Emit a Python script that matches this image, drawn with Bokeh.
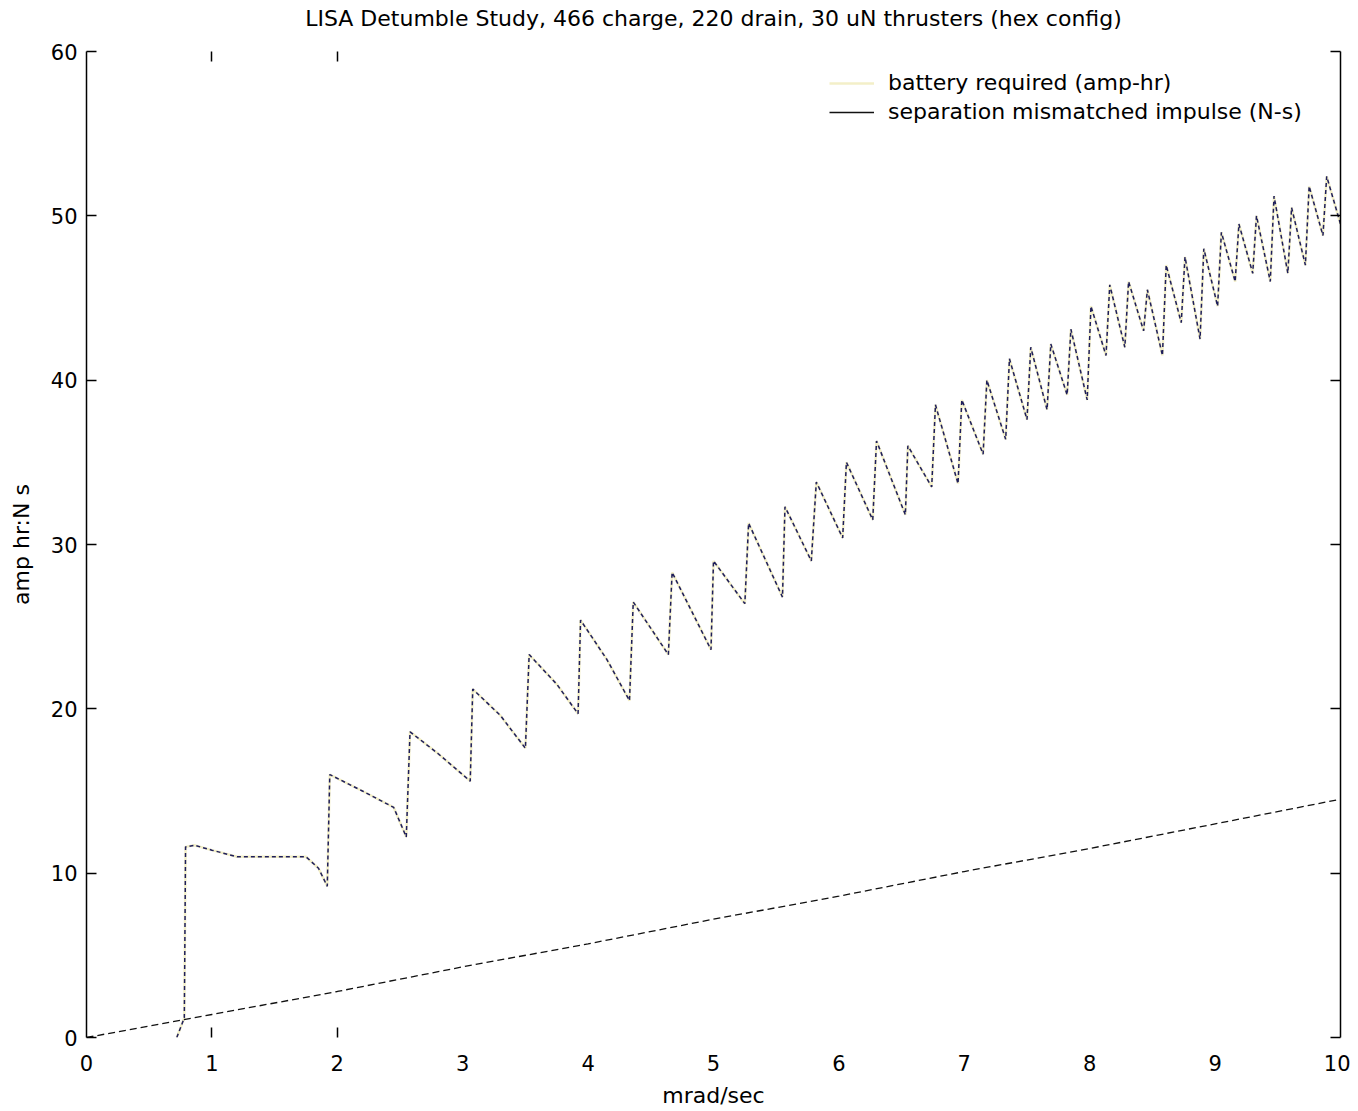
from bokeh.plotting import figure
from bokeh.models import Range1d, LinearAxis, FixedTicker, Legend, LegendItem
from bokeh.embed import file_html
from bokeh.resources import INLINE

TITLE = "LISA Detumble Study, 466 charge, 220 drain, 30 uN thrusters (hex config)"
X_LABEL = "mrad/sec"
Y_LABEL = "amp hr:N s"
X_TICKS = [0, 1, 2, 3, 4, 5, 6, 7, 8, 9, 10]
Y_TICKS = [0, 10, 20, 30, 40, 50, 60]
EDGE_TICKS = [1, 2]
LABEL_BATTERY = "battery required (amp-hr)"
LABEL_IMPULSE = "separation mismatched impulse (N-s)"

# sawtooth series
saw_x = [0.72, 0.78, 0.79, 0.86, 1.00, 1.20, 1.50, 1.75, 1.85, 1.92,
         1.94, 2.20, 2.45, 2.55, 2.58, 2.80, 3.06, 3.08, 3.30, 3.50,
         3.53, 3.75, 3.92, 3.94, 4.15, 4.33, 4.36, 4.64, 4.67, 4.98,
         5.00, 5.25, 5.28, 5.55, 5.57, 5.78, 5.82, 6.03, 6.06, 6.27,
         6.30, 6.53, 6.55, 6.74, 6.77, 6.95, 6.98, 7.15, 7.18, 7.33,
         7.36, 7.50, 7.53, 7.66, 7.69, 7.82, 7.85, 7.98, 8.01, 8.13,
         8.16, 8.28, 8.31, 8.43, 8.46, 8.58, 8.61, 8.73, 8.76, 8.88,
         8.91, 9.02, 9.05, 9.16, 9.19, 9.30, 9.33, 9.44, 9.47, 9.58,
         9.61, 9.72, 9.75, 9.86, 9.89, 10.00]
saw_y = [0.0, 1.2, 11.6, 11.7, 11.4, 11.0, 11.0, 11.0, 10.3, 9.2,
         16.0, 15.0, 14.0, 12.2, 18.6, 17.3, 15.6, 21.2, 19.6, 17.6,
         23.3, 21.5, 19.7, 25.4, 23.0, 20.5, 26.5, 23.3, 28.3, 23.6,
         29.0, 26.4, 31.3, 26.8, 32.3, 29.0, 33.8, 30.4, 35.0, 31.5,
         36.3, 31.8, 36.0, 33.5, 38.5, 33.7, 38.8, 35.5, 40.0, 36.4,
         41.3, 37.6, 42.0, 38.2, 42.2, 39.1, 43.1, 38.8, 44.5, 41.5,
         45.8, 42.0, 46.0, 43.0, 45.5, 41.5, 47.0, 43.5, 47.5, 42.5,
         48.0, 44.5, 49.0, 46.0, 49.5, 46.5, 50.0, 46.0, 51.2, 46.5,
         50.5, 47.0, 51.8, 48.8, 52.4, 49.5]

# straight series
imp_x = [0, 1, 2, 3, 4, 5, 6, 7, 8, 9, 10]
imp_y = [0.0, 1.4, 2.8, 4.3, 5.7, 7.2, 8.6, 10.1, 11.5, 13.0, 14.5]

FONT = "DejaVu Sans"
FS_TICK = "21px"
FS = "22px"

p = figure(width=1350, height=1110,
           x_range=Range1d(0, 10), y_range=Range1d(0, 60),
           output_backend="svg", toolbar_location=None,
           x_axis_location=None, y_axis_location=None,
           min_border_left=86, min_border_right=10,
           min_border_top=51, min_border_bottom=63)
p.outline_line_color = None
p.xgrid.visible = False
p.ygrid.visible = False
p.background_fill_color = "white"
p.border_fill_color = "white"

# left axis
ya = LinearAxis(ticker=FixedTicker(ticks=Y_TICKS), axis_label=Y_LABEL)
ya.major_tick_in = 10
ya.major_tick_out = 0
ya.major_tick_line_width = 1.5
ya.minor_tick_line_color = None
ya.axis_line_color = "black"
ya.axis_line_width = 1.5
ya.major_label_text_font = FONT
ya.major_label_text_font_size = FS_TICK
ya.major_label_text_color = "black"
ya.major_label_standoff = 9
ya.axis_label_text_font = FONT
ya.axis_label_text_font_size = FS
ya.axis_label_text_font_style = "normal"
ya.axis_label_text_color = "black"
ya.axis_label_standoff = 14
p.add_layout(ya, "left")

# right axis: spine and inward ticks, no labels
yr = LinearAxis(ticker=FixedTicker(ticks=[], minor_ticks=Y_TICKS))
yr.major_tick_line_color = None
yr.minor_tick_in = 10
yr.minor_tick_out = 0
yr.minor_tick_line_color = "black"
yr.minor_tick_line_width = 1.5
yr.axis_line_color = "black"
yr.axis_line_width = 1.5
yr.major_label_standoff = 0
yr.axis_label_standoff = 0
p.add_layout(yr, "right")

# bottom: labels at every integer, tick marks only at 1 and 2
xb = LinearAxis(ticker=FixedTicker(ticks=X_TICKS, minor_ticks=EDGE_TICKS),
                axis_label=X_LABEL)
xb.axis_line_color = None
xb.major_tick_line_color = None
xb.major_tick_in = 0
xb.major_tick_out = 0
xb.minor_tick_in = 10
xb.minor_tick_out = 0
xb.minor_tick_line_color = "black"
xb.minor_tick_line_width = 1.5
xb.major_label_text_font = FONT
xb.major_label_text_font_size = FS_TICK
xb.major_label_text_color = "black"
xb.major_label_standoff = 17
xb.axis_label_text_font = FONT
xb.axis_label_text_font_size = FS
xb.axis_label_text_font_style = "normal"
xb.axis_label_text_color = "black"
xb.axis_label_standoff = 9
p.add_layout(xb, "below")

# top: tick marks only at 1 and 2; the chart title is this axis' label
xt = LinearAxis(ticker=FixedTicker(ticks=[], minor_ticks=EDGE_TICKS),
                axis_label=TITLE)
xt.axis_line_color = None
xt.major_tick_line_color = None
xt.major_tick_in = 0
xt.major_tick_out = 0
xt.minor_tick_in = 10
xt.minor_tick_out = 0
xt.minor_tick_line_color = "black"
xt.minor_tick_line_width = 1.5
xt.major_label_standoff = 0
xt.axis_label_standoff = 21
xt.axis_label_text_font = FONT
xt.axis_label_text_font_size = FS
xt.axis_label_text_font_style = "normal"
xt.axis_label_text_color = "black"
p.add_layout(xt, "above")

# series
bat = p.line(saw_x, saw_y, line_color="#f3efc8", line_width=2.5)
p.line(saw_x, saw_y, line_color="#1e1e5c", line_width=1.5, line_dash="4 3")
imp = p.line(imp_x, imp_y, line_color="#111111", line_width=1.3, line_dash="7 4")
imp_proxy = p.line(imp_x, imp_y, line_color="#111111", line_width=1.5, visible=False)

legend = Legend(items=[LegendItem(label=LABEL_BATTERY, renderers=[bat]),
                       LegendItem(label=LABEL_IMPULSE, renderers=[imp_proxy])],
                location=(743, 911))
legend.border_line_color = None
legend.background_fill_color = "white"
legend.background_fill_alpha = 1.0
legend.inactive_fill_alpha = 0.0
legend.label_text_font = FONT
legend.label_text_font_size = FS
legend.label_text_color = "black"
legend.glyph_width = 45
legend.glyph_height = 20
legend.label_height = 29
legend.spacing = 0
legend.padding = 5
legend.margin = 0
legend.label_standoff = 14
p.add_layout(legend)

open("out.html", "w").write(file_html(p, INLINE))
